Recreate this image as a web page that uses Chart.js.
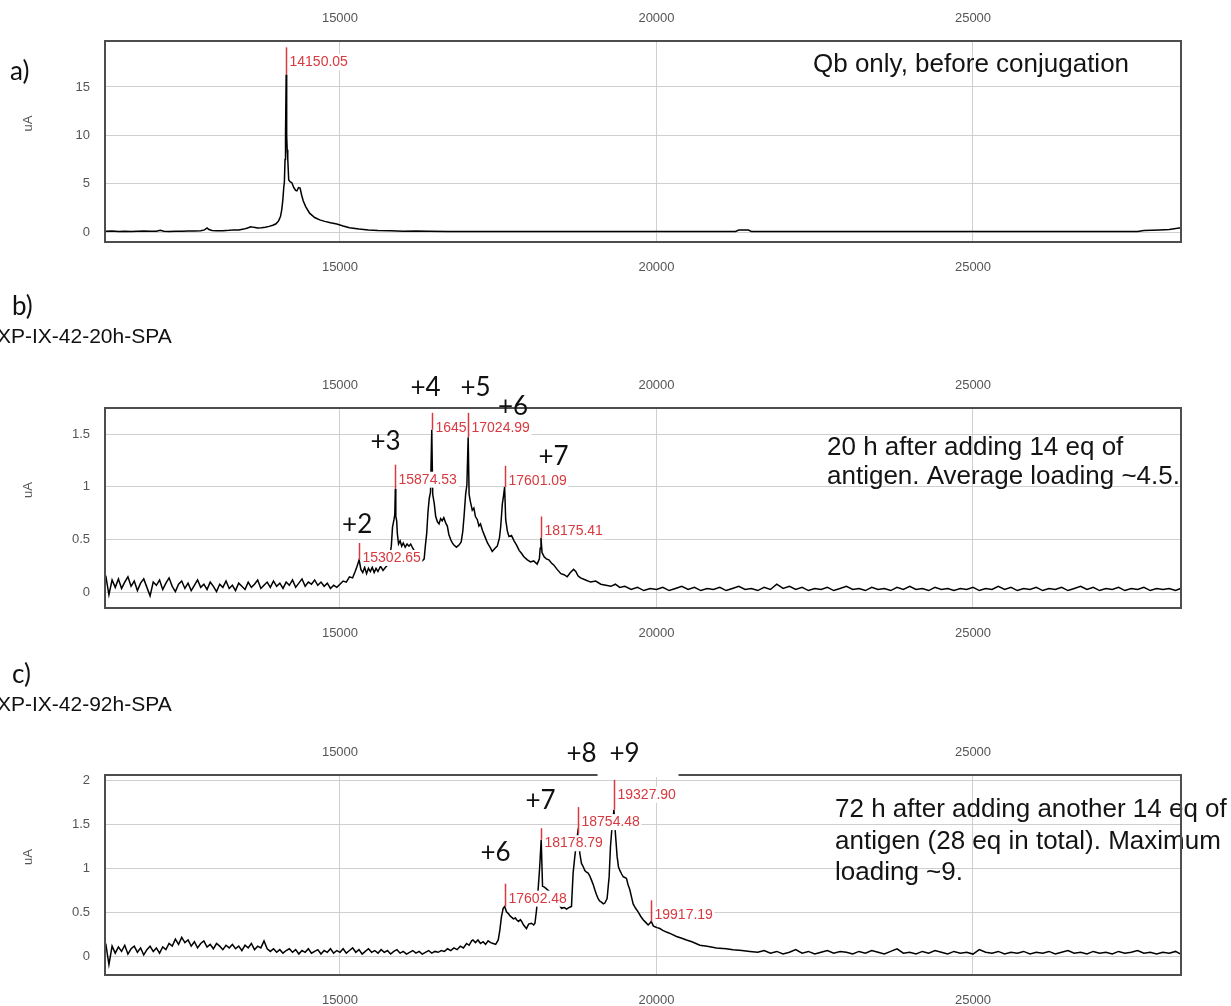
<!DOCTYPE html>
<html>
<head>
<meta charset="utf-8">
<title>Qb conjugation - deconvoluted ESI-MS</title>
<script src="https://cdn.jsdelivr.net/npm/chart.js@4.4.1/dist/chart.umd.min.js"></script>
<style>
  html, body { margin: 0; padding: 0; background: #fff; }
  body { width: 1231px; height: 1006px; position: relative; overflow: hidden; }
  canvas { position: absolute; left: 0; }
</style>
</head>
<body>
<canvas id="panelA" width="1231" height="280" style="top:0px"></canvas>
<canvas id="panelB" width="1231" height="370" style="top:280px"></canvas>
<canvas id="panelC" width="1231" height="356" style="top:650px"></canvas>
<script>
// mass axis shared by the three spectra
const massTicks = [15000, 20000, 25000];
const massMin = 11288;
const massMax = 28286;

// a) Qb only
const massA = [11290, 11400, 11500, 11600, 11700, 11800, 11900, 12000, 12100, 12160,
  12220, 12300, 12400, 12500, 12600, 12700, 12800, 12860, 12900, 12930,
  12980, 13050, 13150, 13250, 13320, 13400, 13480, 13540, 13590, 13640,
  13700, 13760, 13820, 13880, 13940, 13990, 14030, 14060, 14080, 14097,
  14112, 14122, 14132, 14140, 14150.05, 14158, 14166, 14175, 14190, 14210,
  14240, 14270, 14300, 14320, 14345, 14370, 14395, 14420, 14460, 14520,
  14600, 14680, 14760, 14850, 14950, 15050, 15150, 15300, 15450, 15600,
  15800, 16000, 16200, 16400, 16700, 17000, 17500, 18000, 19000, 20000,
  21000, 21250, 21300, 21450, 21500, 22000, 23000, 24000, 25000, 26000,
  27000, 27600, 27700, 27950, 28100, 28286];
const signalA = [0.08, 0.10, 0.06, 0.09, 0.05, 0.08, 0.10, 0.07, 0.09, 0.18,
  0.08, 0.06, 0.09, 0.08, 0.11, 0.10, 0.14, 0.22, 0.42, 0.25,
  0.16, 0.12, 0.14, 0.18, 0.22, 0.20, 0.30, 0.42, 0.55, 0.48,
  0.42, 0.45, 0.50, 0.58, 0.70, 0.85, 1.15, 1.60, 2.30, 3.30,
  4.60, 5.20, 7.50, 10.2, 16.3, 10.0, 8.5, 7.6, 5.4, 5.2,
  5.1, 4.6, 4.3, 4.25, 4.6, 4.55, 3.8, 3.2, 2.6, 1.95,
  1.5, 1.25, 1.1, 0.95, 0.82, 0.62, 0.45, 0.30, 0.20, 0.15,
  0.12, 0.09, 0.10, 0.07, 0.06, 0.05, 0.05, 0.05, 0.05, 0.05,
  0.05, 0.06, 0.20, 0.20, 0.06, 0.05, 0.05, 0.05, 0.05, 0.05,
  0.05, 0.06, 0.15, 0.20, 0.25, 0.45];
const yTicksA = [0, 5, 10, 15];
const peakMassA = [14150.05];
const peakTopA = [19.1];
const peakTextA = ['14150.05'];

// b) XP-IX-42-20h-SPA
const massB = [
  // baseline
  11300, 11350, 11400, 11450, 11500, 11550, 11600, 11650, 11700, 11750,
  11800, 11850, 11900, 11950, 12000, 12050, 12100, 12150, 12200, 12250,
  12300, 12350, 12400, 12450, 12500, 12550, 12600, 12650, 12700, 12750,
  12800, 12850, 12900, 12950, 13000, 13050, 13100, 13150, 13200, 13250,
  13300, 13350, 13400, 13450, 13500, 13550, 13600, 13650, 13700, 13750,
  13800, 13850, 13900, 13950, 14000, 14050, 14100, 14150, 14200, 14250,
  14300, 14350, 14400, 14450, 14500, 14550, 14600, 14650, 14700, 14750,
  14800, 14850, 14900, 14950, 15000,
  // conjugate envelope
  15050, 15100, 15150, 15200, 15240, 15270, 15302.65, 15330, 15360, 15390,
  15420, 15450, 15480, 15510, 15540, 15570, 15600, 15640, 15680, 15720,
  15750, 15790, 15811, 15830, 15853, 15866, 15874.53, 15882, 15896, 15906,
  15925, 15950, 15975, 16000, 16030, 16060, 16090, 16117, 16150, 16200,
  16260, 16300, 16330, 16350, 16370, 16390, 16410, 16430, 16450, 16465,
  16490, 16512, 16540, 16565, 16590, 16615, 16640, 16670, 16696, 16720,
  16750, 16775, 16800, 16840, 16880, 16915, 16940, 16960, 16985, 17005,
  17024.99, 17040, 17060, 17090, 17115, 17140, 17170, 17195, 17220, 17250,
  17290, 17330, 17370, 17405, 17450, 17485, 17520, 17540, 17565, 17585,
  17601.09, 17618, 17645, 17670, 17710, 17750, 17790, 17830, 17870, 17905,
  17960, 18010, 18060, 18115, 18150, 18163, 18175.41, 18192, 18225, 18260,
  18300, 18340, 18380, 18430, 18490, 18540, 18590, 18640, 18690, 18725,
  18760, 18800, 18880, 18960, 19040, 19120, 19200, 19280, 19350, 19420,
  // tail
  19500, 19600, 19700, 19800, 19900, 20000, 20100, 20200, 20300, 20400,
  20500, 20600, 20700, 20800, 20900, 21000, 21100, 21200, 21300, 21400,
  21500, 21600, 21700, 21800, 21900, 22000, 22100, 22200, 22300, 22400,
  22500, 22600, 22700, 22800, 22900, 23000, 23100, 23200, 23300, 23400,
  23500, 23600, 23700, 23800, 23900, 24000, 24100, 24200, 24300, 24400,
  24500, 24600, 24700, 24800, 24900, 25000, 25100, 25200, 25300, 25400,
  25500, 25600, 25700, 25800, 25900, 26000, 26100, 26200, 26300, 26400,
  26500, 26600, 26700, 26800, 26900, 27000, 27100, 27200, 27300, 27400,
  27500, 27600, 27700, 27800, 27900, 28000, 28100, 28200, 28280];
const signalB = [
  0.16, -0.02, 0.12, 0.05, 0.13, 0.04, 0.10, 0.15, 0.06, 0.11,
  0.02, 0.09, 0.13, 0.05, -0.03, 0.10, 0.07, 0.12, 0.03, 0.09,
  0.14, 0.06, 0.01, 0.08, 0.11, 0.04, 0.09, 0.02, 0.07, 0.12,
  0.05, 0.08, 0.03, 0.10, 0.06, 0.01, 0.08, 0.05, 0.11, 0.04,
  0.07, 0.02, 0.09, 0.06, 0.03, 0.10, 0.05, 0.08, 0.12, 0.04,
  0.07, 0.10, 0.05, 0.11, 0.06, 0.09, 0.04, 0.10, 0.07, 0.12,
  0.05, 0.09, 0.13, 0.06, 0.10, 0.08, 0.12, 0.07, 0.10, 0.06,
  0.09, 0.04, 0.07, 0.05, 0.08,
  0.11, 0.10, 0.15, 0.14, 0.20, 0.25, 0.31, 0.22, 0.19, 0.24,
  0.18, 0.23, 0.20, 0.24, 0.19, 0.23, 0.20, 0.25, 0.21, 0.24,
  0.26, 0.36, 0.44, 0.62, 0.69, 0.74, 0.98, 0.72, 0.68, 0.56,
  0.46, 0.49, 0.44, 0.47, 0.43, 0.46, 0.44, 0.46, 0.42, 0.37,
  0.32, 0.30, 0.32, 0.45, 0.56, 0.76, 0.89, 0.95, 1.54, 0.93,
  0.84, 0.72, 0.67, 0.65, 0.70, 0.68, 0.71, 0.66, 0.63, 0.55,
  0.50, 0.47, 0.45, 0.43, 0.45, 0.48, 0.58, 0.72, 0.93, 1.02,
  1.47, 0.93, 0.86, 0.78, 0.80, 0.72, 0.69, 0.63, 0.65, 0.59,
  0.53, 0.47, 0.43, 0.39, 0.42, 0.44, 0.52, 0.63, 0.84, 0.92,
  1.00, 0.69, 0.58, 0.53, 0.54, 0.49, 0.45, 0.40, 0.37, 0.34,
  0.31, 0.29, 0.30, 0.27, 0.32, 0.42, 0.52, 0.38, 0.34, 0.32,
  0.31, 0.28, 0.26, 0.22, 0.18, 0.17, 0.15, 0.19, 0.22, 0.20,
  0.16, 0.14, 0.12, 0.10, 0.11, 0.08, 0.07, 0.06, 0.08, 0.05,
  0.06, 0.03, 0.05, 0.02, 0.04, 0.03, 0.05, 0.02, 0.04, 0.06,
  0.03, 0.05, 0.02, 0.04, 0.03, 0.05, 0.02, 0.04, 0.06, 0.03,
  0.04, 0.02, 0.05, 0.03, 0.08, 0.04, 0.06, 0.03, 0.05, 0.02,
  0.04, 0.03, 0.05, 0.02, 0.04, 0.06, 0.03, 0.04, 0.02, 0.05,
  0.03, 0.04, 0.02, 0.05, 0.03, 0.06, 0.03, 0.04, 0.02, 0.05,
  0.03, 0.04, 0.02, 0.04, 0.03, 0.05, 0.02, 0.04, 0.03, 0.06,
  0.03, 0.05, 0.02, 0.04, 0.03, 0.05, 0.02, 0.04, 0.03, 0.05,
  0.02, 0.04, 0.06, 0.03, 0.05, 0.02, 0.04, 0.03, 0.05, 0.02,
  0.04, 0.03, 0.05, 0.02, 0.04, 0.03, 0.04, 0.02, 0.04];
const yTicksB = [0, 0.5, 1, 1.5];
const peakMassB = [15302.65, 15874.53, 16450, 17024.99, 17601.09, 18175.41];
const peakTopB = [0.47, 1.21, 1.70, 1.70, 1.20, 0.72];
const peakTextB = ['15302.65', '15874.53', '1645', '17024.99', '17601.09', '18175.41'];
const loadingB = ['+2', '+3', '+4', '+5', '+6', '+7'];
const loadingMassB = [15272, 15719, 16351, 17141, 17733, 18373];
const loadingLevelB = [0.64, 1.43, 1.94, 1.94, 1.755, 1.29];

// c) XP-IX-42-92h-SPA
const massC = [
  // baseline
  11300, 11350, 11400, 11450, 11500, 11550, 11600, 11650, 11700, 11750,
  11800, 11850, 11900, 11950, 12000, 12050, 12100, 12150, 12200, 12250,
  12300, 12350, 12400, 12450, 12500, 12550, 12600, 12650, 12700, 12750,
  12800, 12850, 12900, 12950, 13000, 13050, 13100, 13150, 13200, 13250,
  13300, 13350, 13400, 13450, 13500, 13550, 13600, 13650, 13700, 13750,
  13800, 13850, 13900, 13950, 14000, 14050, 14100, 14150, 14200, 14250,
  14300, 14350, 14400, 14450, 14500, 14550, 14600, 14650, 14700, 14750,
  14800, 14850, 14900, 14950, 15000, 15050, 15100, 15150, 15200, 15250,
  15300, 15350, 15400, 15450, 15500, 15550, 15600, 15650, 15700, 15750,
  15800, 15850, 15900, 15950, 16000, 16050, 16100, 16150, 16200, 16250,
  16300, 16350, 16400, 16450, 16500,
  // conjugate envelope
  16550, 16600, 16650, 16700, 16750, 16800, 16850, 16900, 16950, 17000,
  17040, 17080, 17100, 17140, 17180, 17220, 17260, 17300, 17340, 17380,
  17420, 17460, 17500, 17525, 17550, 17578, 17602.48, 17630, 17660, 17690,
  17710, 17740, 17770, 17790, 17820, 17850, 17870, 17900, 17946, 17980,
  18025, 18060, 18080, 18105, 18130, 18155, 18178.79, 18200, 18230, 18280,
  18340, 18400, 18450, 18500, 18540, 18580, 18620, 18657, 18683, 18710,
  18754.48, 18790, 18815, 18845, 18868, 18895, 18920, 18945, 18973, 19000,
  19026, 19050, 19078, 19105, 19131, 19160, 19184, 19220, 19252, 19273,
  19294, 19327.90, 19347, 19378, 19400, 19421, 19450, 19473, 19500, 19526,
  19550, 19579, 19605, 19631, 19670, 19710, 19750, 19789, 19830, 19868,
  19895, 19917.19, 19950, 19975, 20010, 20053, 20100, 20158, 20230, 20316,
  20400, 20474, 20560, 20685, 20800, 20948, 21100, 21211, 21350, 21475,
  // tail
  21600, 21700, 21800, 21900, 22000, 22100, 22200, 22300, 22400, 22500,
  22600, 22700, 22800, 22900, 23000, 23100, 23200, 23300, 23400, 23500,
  23600, 23700, 23800, 23900, 24000, 24100, 24200, 24300, 24400, 24500,
  24600, 24700, 24800, 24900, 25000, 25100, 25200, 25300, 25400, 25500,
  25600, 25700, 25800, 25900, 26000, 26100, 26200, 26300, 26400, 26500,
  26600, 26700, 26800, 26900, 27000, 27100, 27200, 27300, 27400, 27500,
  27600, 27700, 27800, 27900, 28000, 28100, 28200, 28280];
const signalC = [
  0.15, -0.09, 0.12, 0.04, 0.11, 0.06, 0.13, 0.03, 0.09, 0.12,
  0.05, 0.10, 0.02, 0.08, 0.12, 0.06, 0.10, 0.04, 0.11, 0.08,
  0.15, 0.12, 0.20, 0.14, 0.22, 0.16, 0.19, 0.12, 0.17, 0.10,
  0.15, 0.18, 0.11, 0.14, 0.09, 0.15, 0.12, 0.08, 0.13, 0.10,
  0.14, 0.09, 0.12, 0.07, 0.13, 0.10, 0.15, 0.08, 0.12, 0.10,
  0.18, 0.09, 0.06, 0.09, 0.05, 0.08, 0.04, 0.07, 0.09, 0.05,
  0.08, 0.03, 0.07, 0.05, 0.09, 0.04, 0.06, 0.08, 0.03, 0.07,
  0.05, 0.09, 0.04, 0.07, 0.05, 0.09, 0.04, 0.07, 0.10, 0.05,
  0.08, 0.03, 0.06, 0.09, 0.05, 0.07, 0.04, 0.08, 0.05, 0.07,
  0.03, 0.06, 0.08, 0.04, 0.06, 0.03, 0.05, 0.07, 0.04, 0.06,
  0.03, 0.05, 0.07, 0.04, 0.06,
  0.05, 0.07, 0.06, 0.09, 0.07, 0.10, 0.08, 0.12, 0.10, 0.15,
  0.13, 0.18, 0.19, 0.16, 0.19, 0.15, 0.17, 0.14, 0.18, 0.16,
  0.15, 0.14, 0.19, 0.30, 0.45, 0.55, 0.57, 0.51, 0.49, 0.46,
  0.45, 0.43, 0.44, 0.42, 0.40, 0.42, 0.40, 0.36, 0.32, 0.37,
  0.38, 0.36, 0.38, 0.53, 0.76, 1.02, 1.33, 0.80, 0.79, 0.76,
  0.72, 0.65, 0.60, 0.55, 0.56, 0.54, 0.56, 0.57, 0.95, 1.14,
  1.40, 1.17, 1.06, 1.02, 0.98, 0.96, 0.95, 0.92, 0.87, 0.82,
  0.76, 0.71, 0.66, 0.63, 0.62, 0.60, 0.61, 0.66, 0.91, 1.25,
  1.44, 1.67, 1.44, 1.14, 1.02, 0.98, 0.94, 0.91, 0.90, 0.89,
  0.82, 0.76, 0.68, 0.60, 0.55, 0.51, 0.46, 0.42, 0.39, 0.36,
  0.38, 0.40, 0.35, 0.34, 0.33, 0.32, 0.30, 0.28, 0.26, 0.23,
  0.21, 0.19, 0.17, 0.13, 0.12, 0.10, 0.09, 0.08, 0.07, 0.06,
  0.05, 0.07, 0.04, 0.06, 0.03, 0.05, 0.08, 0.04, 0.06, 0.03,
  0.05, 0.07, 0.04, 0.06, 0.05, 0.03, 0.06, 0.04, 0.07, 0.05,
  0.03, 0.06, 0.09, 0.04, 0.05, 0.03, 0.06, 0.04, 0.07, 0.05,
  0.03, 0.06, 0.04, 0.05, 0.03, 0.08, 0.05, 0.04, 0.06, 0.03,
  0.05, 0.04, 0.06, 0.03, 0.05, 0.04, 0.06, 0.03, 0.05, 0.07,
  0.04, 0.05, 0.03, 0.06, 0.04, 0.05, 0.03, 0.06, 0.04, 0.05,
  0.07, 0.04, 0.05, 0.03, 0.05, 0.04, 0.06, 0.03];
const yTicksC = [0, 0.5, 1, 1.5, 2];
const peakMassC = [17602.48, 18178.79, 18754.48, 19327.90, 19917.19];
const peakTopC = [0.83, 1.46, 1.70, 2.01, 0.64];
const peakTextC = ['17602.48', '18178.79', '18754.48', '19327.90', '19917.19'];
const loadingC = ['+6', '+7', '+8', '+9'];
const loadingMassC = [17457, 18168, 18816, 19495];
const loadingLevelC = [1.18, 1.775, 2.31, 2.31];

const red = '#d8393f';
const sans = '"Liberation Sans", Arial, sans-serif';
const tickFont = { family: sans, size: 13 };

// red peak picks, notes, frame and labels drawn on top of the trace
function peakMarks(p) {
  return {
    id: 'peakMarks',
    afterDatasetsDraw(chart) {
      const { ctx, chartArea: area } = chart;
      const x = chart.scales.x, y = chart.scales.y;
      ctx.save();
      ctx.textBaseline = 'middle';
      ctx.textAlign = 'left';

      ctx.font = '26px ' + sans;
      ctx.fillStyle = '#141414';
      p.note.forEach((line, i) => {
        ctx.fillText(line, area.left + p.noteAt[0], area.top + p.noteAt[1] + i * p.noteGap);
      });

      ctx.font = '14px ' + sans;
      p.peaks.forEach((m, i) => {
        const px = Math.round(x.getPixelForValue(m)) + 0.5;
        const top = y.getPixelForValue(p.tops[i]);
        const apex = y.getPixelForValue(p.signal[p.mass.indexOf(m)]);
        const w = ctx.measureText(p.texts[i]).width;
        ctx.fillStyle = '#fff';
        ctx.fillRect(px + 1.5, top + 7, w + 3, 16);
        ctx.fillStyle = red;
        ctx.fillText(p.texts[i], px + 3, top + 15);
        ctx.strokeStyle = red;
        ctx.lineWidth = 1.5;
        ctx.beginPath();
        ctx.moveTo(px, top);
        ctx.lineTo(px, apex);
        ctx.stroke();
      });

      ctx.strokeStyle = '#4d4d4d';
      ctx.lineWidth = 2;
      ctx.strokeRect(area.left, area.top, area.width, area.height);

      if (p.cover) {
        const l = x.getPixelForValue(p.cover[0]);
        const r = x.getPixelForValue(p.cover[1]);
        const t = y.getPixelForValue(p.cover[3]);
        const b = y.getPixelForValue(p.cover[2]);
        ctx.fillStyle = '#fff';
        ctx.fillRect(l, t, r - l, b - t);
      }

      ctx.font = '26px Lato, "Noto Sans", sans-serif';
      ctx.fillStyle = '#111';
      ctx.textAlign = 'center';
      p.loading.forEach((t, i) => {
        ctx.fillText(t, x.getPixelForValue(p.loadingMass[i]), y.getPixelForValue(p.loadingLevel[i]));
      });

      // captions above the panel
      ctx.textAlign = 'left';
      ctx.textBaseline = 'alphabetic';
      p.captions.forEach(c => {
        ctx.font = c.font;
        ctx.fillText(c.text, c.left, c.base);
      });

      // y axis title
      ctx.font = '13px ' + sans;
      ctx.fillStyle = '#555';
      ctx.textAlign = 'center';
      ctx.textBaseline = 'middle';
      ctx.translate(28, (area.top + area.bottom) / 2 - 18);
      ctx.rotate(-Math.PI / 2);
      ctx.fillText('uA', 0, 0);
      ctx.restore();
    }
  };
}

function drawPanel(id, p) {
  const massAxis = (pos, height, pad, grid) => ({
    type: 'linear',
    axis: 'x',
    position: pos,
    min: massMin,
    max: massMax,
    afterBuildTicks: s => { s.ticks = massTicks.map(v => ({ value: v })); },
    afterFit: s => { s.height = height; },
    grid: grid,
    border: { display: false },
    ticks: { font: tickFont, color: '#555', padding: pad, maxRotation: 0, autoSkip: false, callback: v => String(v) }
  });
  return new Chart(document.getElementById(id), {
    type: 'line',
    data: {
      datasets: [{
        data: p.mass.map((m, i) => ({ x: m, y: p.signal[i] })),
        borderColor: '#000',
        borderWidth: 1.5,
        pointRadius: 0,
        tension: 0,
        fill: false
      }]
    },
    options: {
      responsive: false,
      animation: false,
      devicePixelRatio: 1,
      events: [],
      layout: { padding: { right: 50 } },
      plugins: { legend: { display: false }, tooltip: { enabled: false } },
      scales: {
        x: massAxis('bottom', p.bottomH, 17.2, { color: '#cfcfcf', drawTicks: false }),
        xTop: massAxis('top', p.topH, 15.2, { drawOnChartArea: false, drawTicks: false }),
        y: {
          type: 'linear',
          min: p.yMin,
          max: p.yMax,
          afterBuildTicks: s => { s.ticks = p.yTicks.map(v => ({ value: v })); },
          afterFit: s => { s.width = 105; },
          grid: { color: '#cfcfcf', drawTicks: false },
          border: { display: false },
          ticks: { font: tickFont, color: '#555', padding: 15, callback: v => String(v) }
        }
      }
    },
    plugins: [peakMarks(p)]
  });
}

const lato = '26px Lato, "Noto Sans", sans-serif';

drawPanel('panelA', {
  mass: massA, signal: signalA,
  yMin: -1.034, yMax: 19.758, yTicks: yTicksA,
  topH: 41, bottomH: 38,
  peaks: peakMassA, tops: peakTopA, texts: peakTextA,
  loading: [], loadingMass: [], loadingLevel: [],
  note: ['Qb only, before conjugation'], noteAt: [708, 24], noteGap: 0,
  captions: [{ text: 'a)', left: 10, base: 80, font: lato }]
});

drawPanel('panelB', {
  mass: massB, signal: signalB,
  yMin: -0.145, yMax: 1.746, yTicks: yTicksB,
  topH: 128, bottomH: 42,
  peaks: peakMassB, tops: peakTopB, texts: peakTextB,
  loading: loadingB, loadingMass: loadingMassB, loadingLevel: loadingLevelB,
  note: ['20 h after adding 14 eq of', 'antigen. Average loading ~4.5.'], noteAt: [722, 40], noteGap: 29,
  captions: [
    { text: 'b)', left: 12, base: 35, font: lato },
    { text: 'XP-IX-42-20h-SPA', left: -3, base: 63, font: '21px ' + sans }
  ]
});

drawPanel('panelC', {
  mass: massC, signal: signalC,
  yMin: -0.208, yMax: 2.065, yTicks: yTicksC,
  topH: 125, bottomH: 31,
  peaks: peakMassC, tops: peakTopC, texts: peakTextC,
  loading: loadingC, loadingMass: loadingMassC, loadingLevel: loadingLevelC,
  cover: [19069, 20348, 2.04, 2.49],
  note: ['72 h after adding another 14 eq of', 'antigen (28 eq in total). Maximum', 'loading ~9.'],
  noteAt: [730, 35], noteGap: 31.5,
  captions: [
    { text: 'c)', left: 12, base: 33, font: lato },
    { text: 'XP-IX-42-92h-SPA', left: -3, base: 61, font: '21px ' + sans }
  ]
});
</script>
</body>
</html>
